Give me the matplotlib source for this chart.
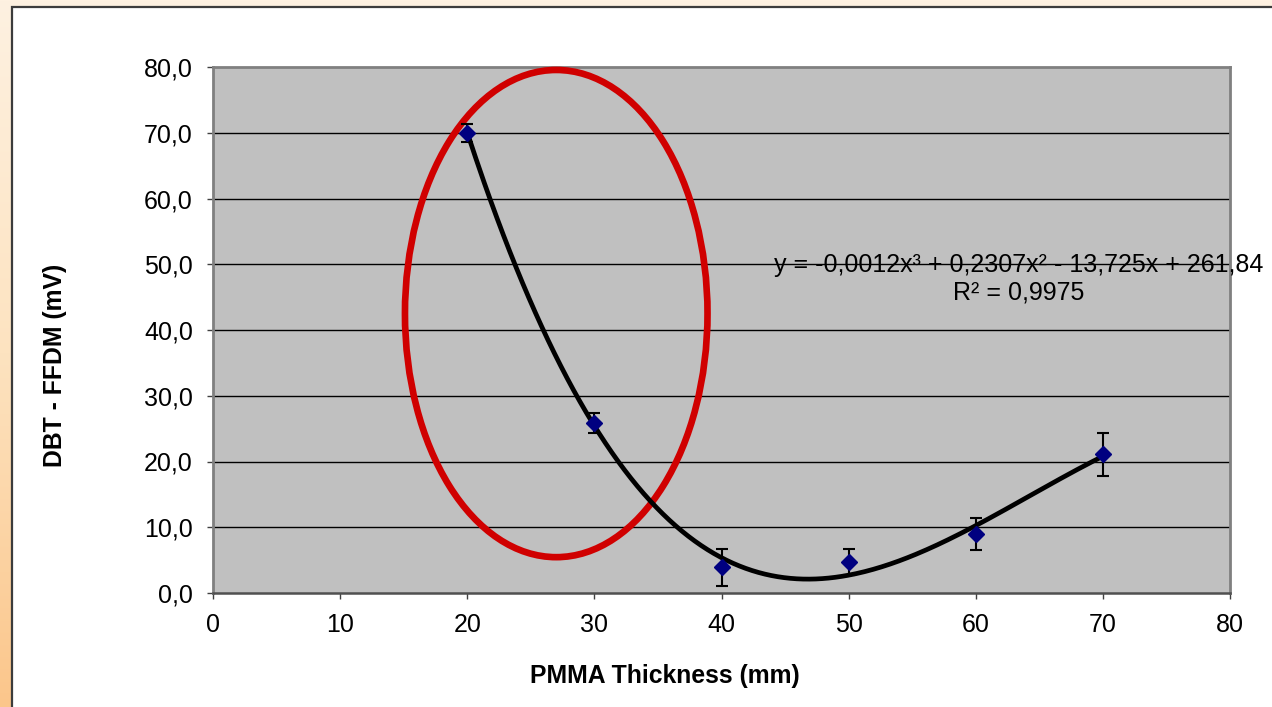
import numpy as np
import matplotlib
matplotlib.use("Agg")
import matplotlib.pyplot as plt
from matplotlib.patches import Ellipse, Rectangle
from matplotlib.ticker import FuncFormatter
from matplotlib.colors import LinearSegmentedColormap

plt.rcParams['font.family'] = ['Liberation Sans', 'DejaVu Sans']

# ---- data ----
thickness = [20, 30, 40, 50, 60, 70]
dbt_ffdm = [70.0, 25.9, 3.9, 4.7, 9.0, 21.1]
err = [1.4, 1.5, 2.8, 2.0, 2.4, 3.3]
x_ticks = [0, 10, 20, 30, 40, 50, 60, 70, 80]
y_ticks = [0, 10, 20, 30, 40, 50, 60, 70, 80]
equation_text = "y = -0,0012x³ + 0,2307x² - 13,725x + 261,84\nR² = 0,9975"
ellipse_center = (27.0, 42.5)
ellipse_size = (23.8, 74.1)

W, H = 1272, 707
fig = plt.figure(figsize=(W / 100, H / 100), dpi=100)

# background gradient (orange frame)
bg = fig.add_axes([0, 0, 1, 1], zorder=-10)
cmap = LinearSegmentedColormap.from_list("bgc", ["#FEF1E1", "#FDE3C0", "#FBC68B"])
grad = np.linspace(0, 1, 256).reshape(-1, 1)
bg.imshow(grad, cmap=cmap, aspect='auto', extent=[0, 1, 0, 1], origin='upper')
bg.set_axis_off()

# white panel
panel = Rectangle((12 / W, -0.01), 1.0, 1 - 7 / H + 0.01, transform=fig.transFigure,
                  facecolor='white', edgecolor='#3c3c3c', linewidth=1.6, zorder=-5)
fig.add_artist(panel)

ax = fig.add_axes([213 / W, 114 / H, 1017 / W, 526 / H])
ax.set_facecolor('#C0C0C0')

ax.set_xlim(0, 80)
ax.set_ylim(0, 80)
ax.set_xticks(x_ticks)
ax.set_yticks(y_ticks)
ax.yaxis.set_major_formatter(FuncFormatter(lambda v, p: f"{v:.1f}".replace('.', ',')))
ax.xaxis.set_major_formatter(FuncFormatter(lambda v, p: f"{int(v)}"))

for yv in y_ticks[1:-1]:
    ax.axhline(yv, color='black', linewidth=1.0, zorder=1)

for s in ['top', 'right', 'left']:
    ax.spines[s].set_color('#808080')
    ax.spines[s].set_linewidth(2.0)
ax.spines['bottom'].set_color('#505050')
ax.spines['bottom'].set_linewidth(1.8)

ax.tick_params(axis='both', which='major', direction='out', length=4.5, width=1.0,
               color='#404040', labelsize=18, labelcolor='black')
ax.tick_params(axis='y', pad=10)
ax.tick_params(axis='x', pad=10)

# trend line (3rd order polynomial)
coef = np.polyfit(thickness, dbt_ffdm, 3)
xs = np.linspace(min(thickness), max(thickness), 300)
ax.plot(xs, np.polyval(coef, xs), color='black', linewidth=3.4, zorder=4,
        solid_capstyle='round')

# data with error bars
ax.errorbar(thickness, dbt_ffdm, yerr=err, fmt='D', color='#000080',
            markersize=8, markeredgecolor='#000080', ecolor='black',
            elinewidth=1.5, capsize=4, capthick=1.5, zorder=5)

# red ellipse
ell = Ellipse(ellipse_center, ellipse_size[0], ellipse_size[1], fill=False,
              edgecolor='#D00000', linewidth=4.8, zorder=3, clip_on=False)
ax.add_patch(ell)

ax.text(63.4, 47.8, equation_text, ha='center', va='center', fontsize=18,
        multialignment='center', linespacing=1.2, zorder=6, clip_on=False)

ax.set_xlabel("PMMA Thickness (mm)", fontsize=17.8, fontweight='bold')
ax.set_ylabel("DBT - FFDM (mV)", fontsize=17.8, fontweight='bold')
ax.xaxis.set_label_coords(0.444, -0.158)
ax.xaxis.label.set_va('center')
ax.yaxis.set_label_coords(-0.155, 0.432)
ax.yaxis.label.set_va('center')

fig.savefig("out.png", dpi=100)
